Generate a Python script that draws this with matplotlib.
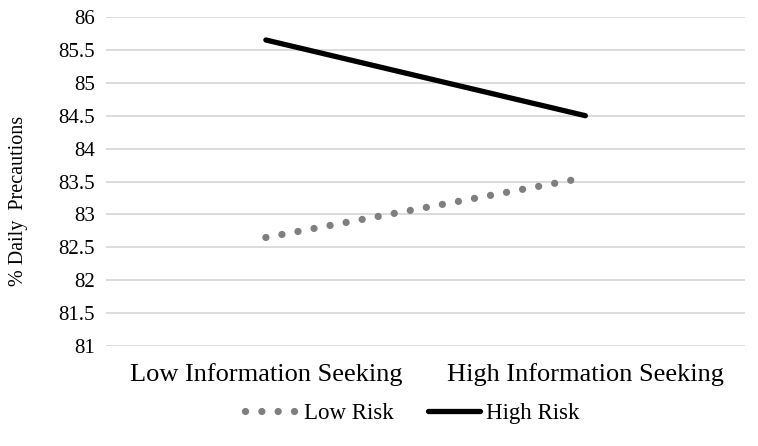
import matplotlib.pyplot as plt

# data
categories = ['Low Information Seeking', 'High Information Seeking']
low_risk = [82.65, 83.56]
high_risk = [85.65, 84.5]
yticks = [81, 81.5, 82, 82.5, 83, 83.5, 84, 84.5, 85, 85.5, 86]

plt.rcParams['font.family'] = ['Liberation Serif', 'DejaVu Serif']

fig = plt.figure(figsize=(7.58, 4.46), dpi=100)
ax = fig.add_axes([0.14, 0.224, 0.843, 0.738])

x = list(range(len(categories)))
ax.plot(x, low_risk, color='#7f7f7f', lw=5.2, linestyle=(0, (0.01, 2.25)),
        dash_capstyle='round', label='Low Risk')
ax.plot(x, high_risk, color='black', lw=3.8, solid_capstyle='round', label='High Risk')

ax.set_xlim(-0.5, 1.5)
ax.set_ylim(81, 86)
ax.set_yticks(yticks)
ax.set_yticklabels(['%g' % v for v in yticks])
ax.set_xticks(x)
ax.set_xticklabels(categories)
ax.tick_params(length=0, labelsize=15, pad=8)
ax.tick_params(axis='x', labelsize=19, pad=12)
ax.grid(axis='y', color='#d9d9d9', lw=1.3)
ax.set_axisbelow(True)
for s in ax.spines.values():
    s.set_visible(False)

fig.text(0.024, 0.55, '% Daily  Precautions', rotation=90, fontsize=14.5,
         ha='center', va='center')

fig.legend(loc='center', bbox_to_anchor=(0.544, 0.072), ncol=2, frameon=False,
           fontsize=16.5, handlelength=2.3, handletextpad=0.25, columnspacing=1.5)

fig.savefig('out.png', dpi=100)
